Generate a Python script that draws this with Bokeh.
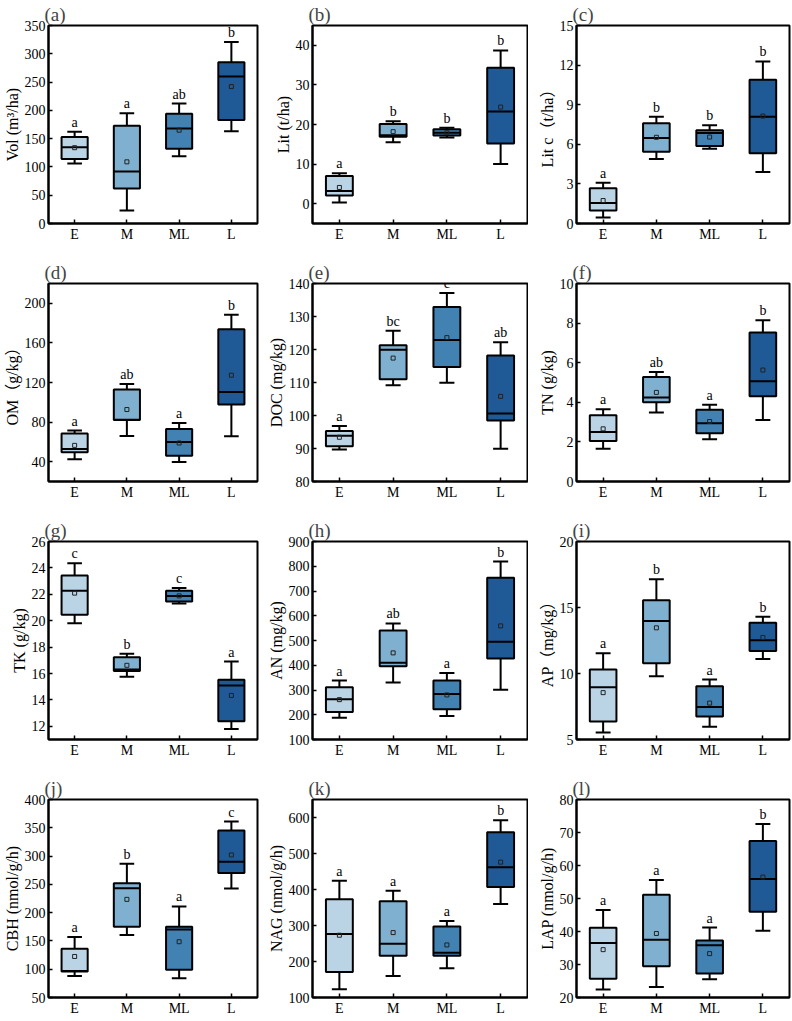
from bokeh.plotting import figure
from bokeh.layouts import gridplot
from bokeh.models import FixedTicker, Range1d, ColumnDataSource
from bokeh.core.properties import value
from bokeh.embed import file_html
from bokeh.resources import INLINE

groups = ["E", "M", "ML", "L"]
box_colors = ["#BAD4E6", "#80B0CF", "#4182B3", "#1F5A97"]

# (a) Vol
vol_low = [106, 23, 119, 163]
vol_q1 = [114, 62, 132, 183]
vol_med = [135, 92, 168, 260]
vol_q3 = [153, 173, 194, 285]
vol_high = [162, 195, 212, 321]
vol_mean = [134, 109, 165, 242]
vol_sig = ["a", "a", "ab", "b"]

# (b) Lit
lit_low = [0.3, 15.5, 16.7, 10.0]
lit_q1 = [2.1, 16.9, 17.2, 15.2]
lit_med = [3.2, 17.3, 17.9, 23.3]
lit_q3 = [7.0, 20.1, 18.8, 34.3]
lit_high = [7.7, 20.8, 19.2, 38.7]
lit_mean = [4.1, 18.2, 17.9, 24.4]
lit_sig = ["a", "b", "b", "b"]

# (c) Lit c
litc_low = [0.45, 4.89, 5.67, 3.91]
litc_q1 = [0.98, 5.44, 5.87, 5.32]
litc_med = [1.56, 6.48, 6.86, 8.09]
litc_q3 = [2.67, 7.59, 7.06, 10.89]
litc_high = [3.08, 8.09, 7.44, 12.28]
litc_mean = [1.74, 6.53, 6.55, 8.14]
litc_sig = ["a", "b", "b", "b"]

# (d) OM
om_low = [42.4, 66.0, 39.7, 65.7]
om_q1 = [49.5, 82.2, 46.1, 97.7]
om_med = [52.8, 82.5, 59.9, 110.5]
om_q3 = [68.4, 112.9, 73.1, 173.7]
om_high = [71.4, 118.6, 79.2, 188.5]
om_mean = [56.5, 92.7, 58.9, 127.4]
om_sig = ["a", "ab", "a", "b"]

# (e) DOC
doc_low = [89.7, 109.2, 109.9, 89.9]
doc_q1 = [90.7, 111.0, 114.7, 98.5]
doc_med = [93.9, 119.9, 122.9, 100.6]
doc_q3 = [95.3, 121.3, 132.9, 118.2]
doc_high = [96.8, 125.7, 137.1, 122.2]
doc_mean = [93.4, 117.4, 123.6, 105.8]
doc_sig = ["a", "bc", "c", "ab"]

# (f) TN
tn_low = [1.66, 3.48, 2.13, 3.11]
tn_q1 = [2.05, 4.00, 2.44, 4.30]
tn_med = [2.50, 4.24, 2.94, 5.06]
tn_q3 = [3.34, 5.28, 3.63, 7.53]
tn_high = [3.65, 5.53, 3.87, 8.15]
tn_mean = [2.66, 4.50, 3.03, 5.63]
tn_sig = ["a", "ab", "a", "b"]

# (g) TK
tk_low = [19.8, 15.76, 21.3, 11.8]
tk_q1 = [20.46, 16.19, 21.45, 12.38]
tk_med = [22.26, 16.30, 21.88, 15.1]
tk_q3 = [23.43, 17.23, 22.26, 15.53]
tk_high = [24.35, 17.49, 22.47, 16.9]
tk_mean = [22.09, 16.62, 21.88, 14.34]
tk_sig = ["c", "b", "c", "a"]

# (h) AN
an_low = [188, 330, 195, 301]
an_q1 = [211, 396, 222, 427]
an_med = [263, 410, 284, 495]
an_q3 = [311, 540, 338, 754]
an_high = [338, 569, 369, 819]
an_mean = [261, 450, 280, 559]
an_sig = ["a", "ab", "a", "b"]

# (i) AP
ap_low = [5.53, 9.79, 5.96, 11.1]
ap_q1 = [6.37, 10.78, 6.75, 11.71]
ap_med = [8.95, 13.97, 7.46, 12.52]
ap_q3 = [10.3, 15.54, 9.03, 13.84]
ap_high = [11.54, 17.14, 9.54, 14.3]
ap_mean = [8.55, 13.46, 7.76, 12.73]
ap_sig = ["a", "b", "a", "b"]

# (j) CBH
cbh_low = [88, 160.5, 84, 242.5]
cbh_q1 = [96, 175, 99, 270]
cbh_med = [97, 243, 170, 290]
cbh_q3 = [136, 252, 175, 345]
cbh_high = [157, 286.5, 211, 361]
cbh_mean = [122.5, 223.5, 148.6, 302]
cbh_sig = ["a", "b", "a", "c"]

# (k) NAG
nag_low = [123, 159.5, 181, 360]
nag_q1 = [170.6, 216, 216, 406.7]
nag_med = [276.6, 249.6, 224.5, 461.5]
nag_q3 = [373, 367.7, 297, 559]
nag_high = [424, 396.5, 312.8, 592.6]
nag_mean = [273, 280.3, 246, 476]
nag_sig = ["a", "a", "a", "b"]

# (l) LAP
lap_low = [22.4, 23.2, 25.5, 40.2]
lap_q1 = [25.7, 29.5, 27.3, 46.0]
lap_med = [36.5, 37.5, 35.8, 55.9]
lap_q3 = [41.1, 51.1, 37.3, 67.4]
lap_high = [46.5, 55.6, 41.2, 72.6]
lap_mean = [34.5, 39.4, 33.3, 56.5]
lap_sig = ["a", "a", "a", "b"]

panels = [
    ("(a)", "Vol (m³/ha)", (0, 350), list(range(0, 351, 50)),
     vol_low, vol_q1, vol_med, vol_q3, vol_high, vol_mean, vol_sig),
    ("(b)", "Lit (t/ha)", (-5, 45), [0, 10, 20, 30, 40],
     lit_low, lit_q1, lit_med, lit_q3, lit_high, lit_mean, lit_sig),
    ("(c)", "Lit c（t/ha）", (0, 15), [0, 3, 6, 9, 12, 15],
     litc_low, litc_q1, litc_med, litc_q3, litc_high, litc_mean, litc_sig),
    ("(d)", "OM（g/kg）", (20, 220), [40, 80, 120, 160, 200],
     om_low, om_q1, om_med, om_q3, om_high, om_mean, om_sig),
    ("(e)", "DOC (mg/kg)", (80, 140), list(range(80, 141, 10)),
     doc_low, doc_q1, doc_med, doc_q3, doc_high, doc_mean, doc_sig),
    ("(f)", "TN (g/kg)", (0, 10), [0, 2, 4, 6, 8, 10],
     tn_low, tn_q1, tn_med, tn_q3, tn_high, tn_mean, tn_sig),
    ("(g)", "TK (g/kg)", (11, 26), list(range(12, 27, 2)),
     tk_low, tk_q1, tk_med, tk_q3, tk_high, tk_mean, tk_sig),
    ("(h)", "AN (mg/kg)", (100, 900), list(range(100, 901, 100)),
     an_low, an_q1, an_med, an_q3, an_high, an_mean, an_sig),
    ("(i)", "AP（mg/kg）", (5, 20), [5, 10, 15, 20],
     ap_low, ap_q1, ap_med, ap_q3, ap_high, ap_mean, ap_sig),
    ("(j)", "CBH (nmol/g/h)", (50, 400), list(range(50, 401, 50)),
     cbh_low, cbh_q1, cbh_med, cbh_q3, cbh_high, cbh_mean, cbh_sig),
    ("(k)", "NAG (nmol/g/h)", (100, 650), list(range(100, 601, 100)),
     nag_low, nag_q1, nag_med, nag_q3, nag_high, nag_mean, nag_sig),
    ("(l)", "LAP (nmol/g/h)", (20, 80), list(range(20, 81, 10)),
     lap_low, lap_q1, lap_med, lap_q3, lap_high, lap_mean, lap_sig),
]

SERIF = "Liberation Serif"
LABEL_FONT = "Liberation Serif, Noto Sans CJK SC"
col_left = [41, 48, 48]
col_right = [7, 1, 3]
row_bottom = [35, 35, 35, 24]


def make_panel(idx, title, ylabel, yr, yticks, low, q1, med, q3, high, mean, sig):
    r, c = divmod(idx, 3)
    h = 25 + 198 + row_bottom[r]
    p = figure(width=264, height=h, output_backend="svg", toolbar_location=None,
               x_range=Range1d(0, 4), y_range=Range1d(*yr),
               min_border_left=col_left[c], min_border_right=col_right[c],
               min_border_top=25, min_border_bottom=row_bottom[r])
    p.title.text = title
    p.title.text_font = SERIF
    p.title.text_font_size = "19px"
    p.title.text_font_style = "normal"
    p.title.align = "left"
    p.title.offset = -4
    p.title.standoff = 1
    p.outline_line_color = "black"
    p.outline_line_width = 2
    p.outline_line_alpha = 1
    p.xgrid.visible = False
    p.ygrid.visible = False
    p.background_fill_color = "white"
    p.border_fill_color = "white"

    xs = [i + 0.5 for i in range(len(groups))]
    src = ColumnDataSource(dict(
        x=xs, x0=[x - 0.25 for x in xs], x1=[x + 0.25 for x in xs],
        c0=[x - 0.14 for x in xs], c1=[x + 0.14 for x in xs],
        low=low, q1=q1, med=med, q3=q3, high=high, mean=mean, sig=sig,
        color=box_colors))

    p.segment(x0="x", x1="x", y0="q3", y1="high", source=src, line_color="black", line_width=2)
    p.segment(x0="x", x1="x", y0="q1", y1="low", source=src, line_color="black", line_width=2)
    p.segment(x0="c0", x1="c1", y0="high", y1="high", source=src, line_color="black", line_width=2)
    p.segment(x0="c0", x1="c1", y0="low", y1="low", source=src, line_color="black", line_width=2)
    p.vbar(x="x", width=0.5, bottom="q1", top="q3", source=src,
           fill_color="color", line_color="black", line_width=2)
    p.segment(x0="x0", x1="x1", y0="med", y1="med", source=src, line_color="black", line_width=2)
    p.scatter(x="x", y="mean", source=src, marker="square", size=4,
              fill_color=None, line_color="#222222", line_width=1)
    p.text(x="x", y="high", text="sig", source=src, text_align="center",
           text_baseline="bottom", y_offset=-2, text_font=value(SERIF),
           text_font_size="14px", text_color="black")

    p.xaxis.ticker = FixedTicker(ticks=xs)
    p.xaxis.major_label_overrides = {x: g for x, g in zip(xs, groups)}
    p.yaxis.ticker = FixedTicker(ticks=yticks)
    p.yaxis.axis_label = ylabel
    for ax in (p.xaxis, p.yaxis):
        ax.axis_line_color = "black"
        ax.axis_line_width = 2
        ax.major_tick_in = 4
        ax.major_tick_out = 0
        ax.minor_tick_line_color = None
        ax.major_tick_line_color = "black"
        ax.major_tick_line_width = 1.5
        ax.major_label_text_font = SERIF
        ax.major_label_text_font_size = "14px"
        ax.major_label_text_color = "black"
        ax.major_label_standoff = 3
    p.yaxis.axis_label_text_font = LABEL_FONT
    p.yaxis.axis_label_text_font_size = "16px"
    p.yaxis.axis_label_text_font_style = "normal"
    p.yaxis.axis_label_text_color = "black"
    p.yaxis.axis_label_standoff = 1
    return p


figs = [make_panel(i, *pn) for i, pn in enumerate(panels)]
grid = gridplot([figs[0:3], figs[3:6], figs[6:9], figs[9:12]], toolbar_location=None)

open("out.html", "w").write(file_html(grid, INLINE))
